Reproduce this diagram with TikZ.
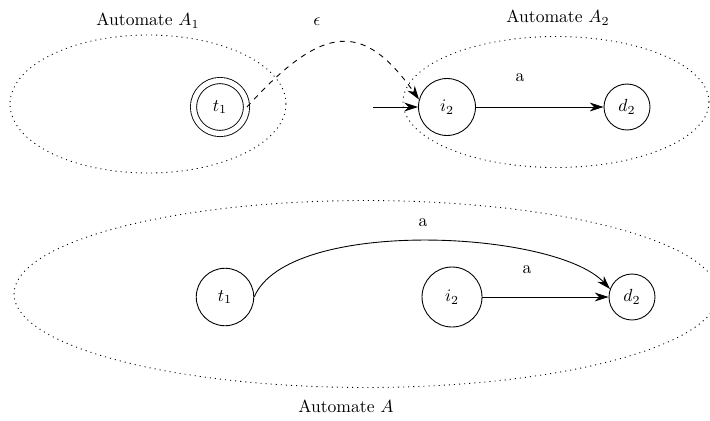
\documentclass[tikz,border=0pt]{standalone}
\usetikzlibrary{arrows.meta}
\begin{document}
\begin{tikzpicture}[x=0.02cm,y=-0.02cm,
  state/.style={draw,circle,inner sep=0pt,line width=0.5pt},
  region/.style={draw,line width=0.5pt,dash pattern=on 0.6pt off 2.3pt},
  tr/.style={-{Stealth[length=7.8pt,width=5pt,inset=2.4pt]},line width=0.5pt},
  lbl/.style={inner sep=0pt}]
\useasboundingbox (0,0) rectangle (710,420);
\clip (0,0) rectangle (710,420);
% regions
\draw[region] (148,104) ellipse [x radius=2.76cm, y radius=1.38cm];
\draw[region] (556,102) ellipse [x radius=3.06cm, y radius=1.31cm];
\draw[region] (366,294) ellipse [x radius=7.04cm, y radius=1.87cm];
% top states
\node[state,double,double distance=3pt,minimum size=1.06cm] (t1a) at (220,107) {$t_1$};
\node[state,minimum size=1.14cm] (i2a) at (447,107) {$i_2$};
\node[state,minimum size=0.92cm] (d2a) at (627,107) {$d_2$};
% bottom states
\node[state,minimum size=1.15cm] (t1b) at (225,297) {$t_1$};
\node[state,minimum size=1.2cm] (i2b) at (452,297) {$i_2$};
\node[state,minimum size=0.92cm] (d2b) at (632,297) {$d_2$};
% top transitions
\coordinate (init) at (373,107);
\draw[tr] (init) -- (i2a);
\draw[tr] (i2a) -- (d2a);
\draw[tr,dashed] (t1a.east) .. controls (324,22) and (364,22) .. (i2a.165);
% bottom transitions
\draw[tr] (t1b.east) .. controls (288,217) and (555,230) .. (d2b.160);
\draw[tr] (i2b) -- (d2b);
% labels
\node[lbl] (eps) at (317,22) {$\epsilon$};
\node[lbl] (la1) at (520,78) {a};
\node[lbl] (la2) at (423,223) {a};
\node[lbl] (la3) at (527,270) {a};
\node[lbl] (nA1) at (148,21) {Automate $A_1$};
\node[lbl] (nA2) at (558,18) {Automate $A_2$};
\node[lbl] (nA) at (346,406) {Automate $A$};
\end{tikzpicture}
\end{document}
